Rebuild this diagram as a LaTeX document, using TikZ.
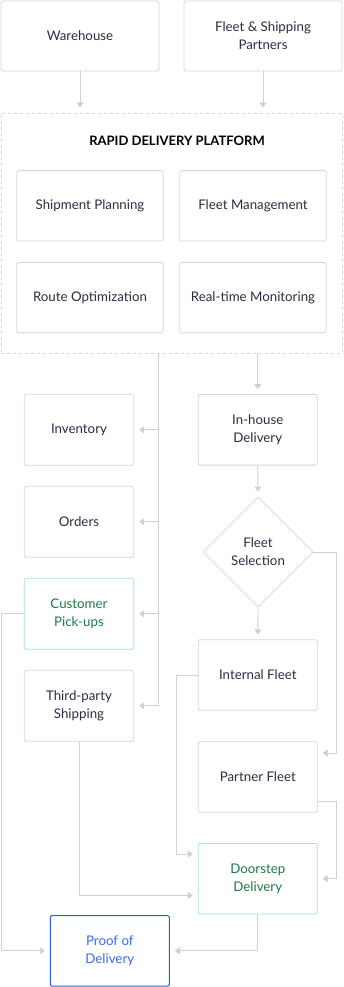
\documentclass[tikz,border=0pt]{standalone}
\usepackage{fontspec}
\setmainfont{Lato}
\usetikzlibrary{arrows.meta,shapes.geometric}
\definecolor{txt}{HTML}{2B2D42}
\definecolor{bord}{HTML}{D6D6DA}
\definecolor{lin}{HTML}{CFCFD4}
\definecolor{gbord}{HTML}{A6E6C8}
\definecolor{gtxt}{HTML}{1E7A46}
\definecolor{bbord}{HTML}{2563D6}
\definecolor{btxt}{HTML}{3A6EE8}
\tikzset{
  box/.style={draw=bord,line width=0.8pt,rounded corners=1.5pt,fill=white,text=txt,
    align=center,inner sep=2pt,font=\fontsize{13.3}{18}\selectfont},
  wbox/.style={box,minimum width=158pt,minimum height=70pt},
  pbox/.style={box,minimum width=146.6pt,minimum height=70.3pt},
  cbox/.style={box,minimum width=109.4pt,minimum height=71pt},
  rbox/.style={box,minimum width=119pt,minimum height=70.6pt},
  gbox/.style={draw=gbord,text=gtxt},
  bbox/.style={draw=bbord,text=btxt,line width=1pt},
  dia/.style={diamond,draw=bord,line width=0.8pt,fill=white,text=txt,align=center,
    inner sep=0pt,minimum width=110pt,minimum height=110pt,font=\fontsize{13.3}{18}\selectfont},
  arr/.style={draw=lin,line width=0.9pt,-{Triangle[width=7pt,length=5pt]},shorten >=5pt},
}
\begin{document}
\begin{tikzpicture}[x=1pt,y=-1pt]
\useasboundingbox (0,0) rectangle (343,987);
% top boxes
\node[wbox] (wh) at (80,36) {Warehouse};
\node[wbox] (fsp) at (263,36) {Fleet \& Shipping\\Partners};
% platform
\node[draw=bord,dashed,line width=0.8pt,minimum width=341pt,minimum height=240pt,inner sep=0pt] (plat) at (171.5,233) {};
\node[font=\bfseries\fontsize{13}{16}\selectfont,text=black] (ptitle) at (177,141) {RAPID DELIVERY PLATFORM};
\node[pbox] (sp) at (90,205.8) {Shipment Planning};
\node[pbox] (fm) at (253,205.8) {Fleet Management};
\node[pbox] (ro) at (90,297.7) {Route Optimization};
\node[pbox] (rm) at (253,297.7) {Real-time Monitoring};
% left column
\node[cbox] (inv) at (79,429.8) {Inventory};
\node[cbox] (ord) at (79,521.8) {Orders};
\node[cbox,gbox] (cp) at (79,613.8) {Customer\\Pick-ups};
\node[cbox] (tp) at (79,705.8) {Third-party\\Shipping};
% right column
\node[rbox] (ih) at (257.8,429.8) {In-house\\Delivery};
\node[dia] (fs) at (258,552) {Fleet\\Selection};
\node[rbox] (if) at (257.8,675) {Internal Fleet};
\node[rbox] (pf) at (257.8,777) {Partner Fleet};
\node[rbox,gbox] (ds) at (257.8,878.7) {Doorstep\\Delivery};
\node[rbox,bbox] (pd) at (109.8,950.8) {Proof of\\Delivery};
% connectors
\coordinate (busL) at (158,353);
\draw[arr] (wh.south) -- (wh.south |- plat.north);
\draw[arr] (fsp.south) -- (fsp.south |- plat.north);
\draw[arr] (busL) |- (inv.east);
\draw[arr] (busL) |- (ord.east);
\draw[arr] (busL) |- (cp.east);
\draw[arr] (busL) |- (tp.east);
\draw[arr] (ih.north |- plat.south) -- (ih.north);
\draw[arr] (ih.south) -- (fs.north);
\draw[arr] (fs.south) -- (if.north);
\draw[arr] (fs.east) -- ++(22.7,0) |- ([yshift=24pt]pf.east);
\draw[arr] (if.west) -- ++(-21.6,0) |- ([yshift=24.6pt]ds.west);
\draw[arr] ([yshift=-24pt]pf.east) -- ++(19,0) |- (ds.east);
\draw[arr] (tp.south) |- ([yshift=-16.7pt]ds.west);
\draw[arr] (cp.west) -- ++(-22.6,0) |- (pd.west);
\draw[arr] (ds.south) |- (pd.east);
\end{tikzpicture}
\end{document}
